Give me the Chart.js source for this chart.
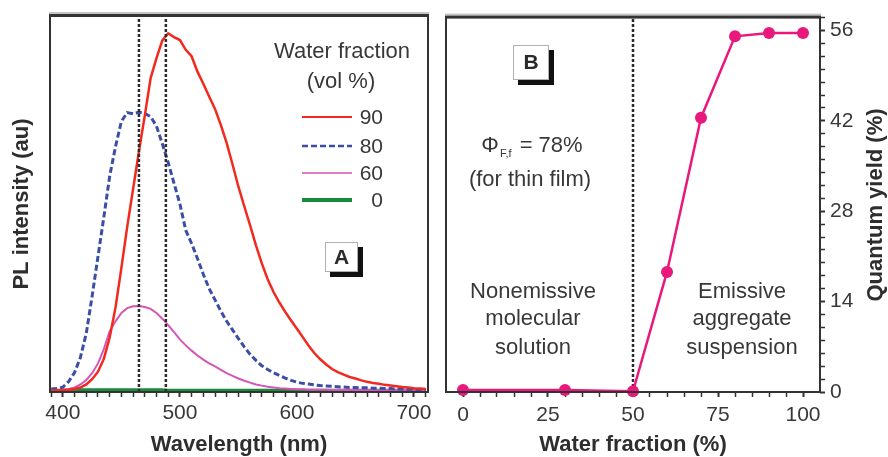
<!DOCTYPE html>
<html>
<head>
<meta charset="utf-8">
<script src="https://cdn.jsdelivr.net/npm/chart.js@4.4.1/dist/chart.umd.min.js"></script>
<style>
  html, body { margin: 0; padding: 0; background: #fff; }
  #wrap { position: relative; width: 888px; height: 457px; overflow: hidden; background: #fff; }
  #spectra { position: absolute; left: 0; top: 0; width: 440px; height: 457px; }
  #yield { position: absolute; left: 440px; top: 0; width: 448px; height: 457px; }
</style>
</head>
<body>
<div id="wrap">
  <canvas id="spectra" width="440" height="457"></canvas>
  <canvas id="yield" width="448" height="457"></canvas>
</div>
<script>
// ---- Panel A: PL spectra at different water fractions ----
const wavelength = [
  390, 395, 400, 405, 410, 415, 420, 425, 430, 435, 440, 445, 450, 455, 460, 465,
  470, 475, 480, 485, 490, 495, 500, 505, 510, 515, 520, 525, 530, 535, 540, 545,
  550, 555, 560, 565, 570, 575, 580, 585, 590, 595, 600, 605, 610, 615, 620, 625,
  630, 635, 640, 645, 650, 655, 660, 665, 670, 675, 680, 685, 690, 695, 700, 705, 710
];
const pl90 = [
  0.4, 0.4, 0.5, 0.6, 0.8, 1.2, 2.0, 3.4, 5.4, 8.8, 14.5, 22.5, 33.0, 44.0, 54.0, 64.0,
  73.5, 83.5, 88.8, 93.5, 95.4, 94.4, 93.6, 91.0, 89.3, 85.2, 82.0, 78.6, 75.3, 71.0, 66.2, 60.5,
  54.6, 49.4, 44.3, 39.0, 34.2, 30.0, 26.6, 23.8, 21.3, 19.0, 16.8, 14.6, 12.3, 10.3, 8.7, 7.3,
  6.1, 5.3, 4.6, 4.0, 3.6, 3.1, 2.7, 2.4, 2.2, 1.9, 1.7, 1.5, 1.3, 1.2, 1.0, 0.9, 0.8
];
const pl80 = [
  0.8, 0.9, 1.3, 2.8, 5.2, 9.2, 15.6, 25.5, 36.0, 46.5, 57.4, 65.3, 72.0, 74.3, 74.0, 74.4,
  74.1, 73.2, 70.7, 66.0, 61.0, 55.5, 50.0, 43.0, 39.5, 35.5, 31.3, 27.5, 24.5, 21.5, 18.8, 16.5,
  14.2, 12.0, 10.0, 8.4, 7.0, 6.0, 5.1, 4.4, 3.7, 3.1, 2.6, 2.3, 2.1, 1.9, 1.7, 1.6,
  1.5, 1.4, 1.3, 1.2, 1.2, 1.1, 1.1, 1.0, 1.0, 0.9, 0.9, 0.8, 0.8, 0.7, 0.7, 0.6, 0.6
];
const pl60 = [
  0.5, 0.5, 0.6, 0.8, 1.2, 2.0, 3.2, 5.0, 7.6, 11.4, 16.2, 18.8, 21.0, 22.3, 22.8, 22.9,
  22.6, 22.1, 21.0, 19.5, 17.8, 15.9, 14.0, 12.4, 11.0, 9.7, 8.6, 7.6, 6.8, 5.9, 5.0, 4.3,
  3.6, 3.0, 2.5, 2.0, 1.7, 1.4, 1.2, 1.0, 0.9, 0.8, 0.7, 0.7, 0.6, 0.6, 0.6, 0.6,
  0.5, 0.5, 0.5, 0.5, 0.5, 0.5, 0.5, 0.5, 0.5, 0.5, 0.5, 0.5, 0.5, 0.5, 0.5, 0.5, 0.5
];
const pl0 = [
  0.4, 0.4, 0.4, 0.4, 0.5, 0.5, 0.5, 0.5, 0.5, 0.5, 0.5, 0.5, 0.5, 0.5, 0.5, 0.5,
  0.5, 0.5, 0.5, 0.5, 0.4, 0.4, 0.4, 0.4, 0.4, 0.4, 0.4, 0.4, 0.4, 0.4, 0.4, 0.4,
  0.4, 0.4, 0.4, 0.4, 0.4, 0.4, 0.4, 0.4, 0.4, 0.4, 0.4, 0.4, 0.4, 0.4, 0.4, 0.4,
  0.4, 0.4, 0.4, 0.4, 0.4, 0.4, 0.4, 0.4, 0.4, 0.4, 0.4, 0.4, 0.4, 0.4, 0.4, 0.4, 0.4
];
const seriesLabels = ['90', '80', '60', '0'];
const peakMarkers = [465, 488];
const wavelengthTicks = [
  390, 400, 410, 420, 430, 440, 450, 460, 470, 480, 490, 500, 510, 520, 530, 540, 550,
  560, 570, 580, 590, 600, 610, 620, 630, 640, 650, 660, 670, 680, 690, 700, 710
];
const wavelengthTickLabels = [400, 500, 600, 700];
const intensityRange = [0, 100];
const wavelengthRange = [389, 712];

// ---- Panel B: quantum yield vs water fraction ----
const waterFraction = [0, 30, 50, 60, 70, 80, 90, 100];
const quantumYield = [0.3, 0.3, 0.1, 18.6, 42.5, 55.1, 55.6, 55.6];
const transitionFraction = 50;
const fractionTicks = [0, 5, 10, 15, 20, 25, 30, 35, 40, 45, 50, 55, 60, 65, 70, 75, 80, 85, 90, 95, 100];
const fractionTickLabels = [0, 25, 50, 75, 100];
const yieldTicks = [0, 2, 4, 6, 8, 10, 12, 14, 16, 18, 20, 22, 24, 26, 28, 30, 32, 34, 36, 38, 40, 42, 44, 46, 48, 50, 52, 54, 56, 58];
const yieldTickLabels = [0, 14, 28, 42, 56];
const fractionRange = [-5, 105];
const yieldRange = [0, 58];

const FONT = '"Liberation Sans", Arial, Helvetica, sans-serif';
const INK = '#383838';
Chart.defaults.font.family = FONT;
Chart.defaults.color = INK;

function pts(xs, ys) { return xs.map((x, i) => ({ x: x, y: ys[i] })); }
function vline(x, lo, hi) { return [{ x: x, y: lo }, { x: x, y: hi }]; }

// Box frame around the plot area with a heavier top edge
const framePlugin = {
  id: 'frame',
  afterDraw(chart) {
    const { ctx, chartArea: a } = chart;
    ctx.save();
    ctx.strokeStyle = '#333';
    ctx.lineWidth = 2;
    ctx.beginPath();
    ctx.moveTo(a.left, a.top);
    ctx.lineTo(a.left, a.bottom);
    ctx.lineTo(a.right, a.bottom);
    ctx.lineTo(a.right, a.top);
    ctx.stroke();
    ctx.fillStyle = '#c4c4c4';
    ctx.fillRect(a.left - 1, a.top - 4, a.right - a.left + 2, 2);
    ctx.fillStyle = '#333';
    ctx.fillRect(a.left - 1, a.top - 2, a.right - a.left + 2, 3);
    ctx.restore();
  }
};

function labelBox(ctx, x, y, w, h, text) {
  ctx.fillStyle = '#111';
  ctx.fillRect(x + 5, y + 5, w, h);
  ctx.fillStyle = '#fff';
  ctx.fillRect(x, y, w, h);
  ctx.strokeStyle = '#b0b0b0';
  ctx.lineWidth = 1;
  ctx.strokeRect(x + 0.5, y + 0.5, w - 1, h - 1);
  ctx.fillStyle = '#2a2a2a';
  ctx.font = 'bold 21px ' + FONT;
  ctx.textAlign = 'center';
  ctx.textBaseline = 'middle';
  ctx.fillText(text, x + w / 2, y + h / 2 + 1);
}

const spectraNotes = {
  id: 'spectraNotes',
  afterDraw(chart) {
    const ctx = chart.ctx;
    ctx.save();
    ctx.fillStyle = INK;
    ctx.font = '22px ' + FONT;
    ctx.textAlign = 'center';
    ctx.textBaseline = 'middle';
    ctx.fillText('Water fraction', 342, 52);
    ctx.fillText('(vol %)', 341, 82);
    const rows = [117, 146, 173, 200];
    const curves = chart.data.datasets.filter(d => d.isSeries);
    curves.forEach((d, i) => {
      ctx.save();
      ctx.strokeStyle = d.borderColor;
      ctx.lineWidth = d.legendWidth;
      ctx.setLineDash(d.borderDash || []);
      ctx.beginPath();
      ctx.moveTo(302, rows[i]);
      ctx.lineTo(352, rows[i]);
      ctx.stroke();
      ctx.restore();
      ctx.fillStyle = INK;
      ctx.font = '21px ' + FONT;
      ctx.textAlign = 'right';
      ctx.fillText(d.label, 383, rows[i] + 1);
    });
    labelBox(ctx, 325, 242, 33, 30, 'A');
    ctx.restore();
  }
};

const yieldNotes = {
  id: 'yieldNotes',
  afterDraw(chart) {
    const ctx = chart.ctx;
    ctx.save();
    labelBox(ctx, 73, 45, 36, 35, 'B');
    ctx.fillStyle = INK;
    ctx.textBaseline = 'alphabetic';
    // Φ with subscript F,f
    const big = '22px ' + FONT, small = '11px ' + FONT;
    ctx.font = big;
    const wPhi = ctx.measureText('\u03A6').width;
    const wEq = ctx.measureText(' = 78%').width;
    ctx.font = small;
    const wSub = ctx.measureText('F,f').width;
    let x = 92 - (wPhi + wSub + 3 + wEq) / 2;
    const base = 152;
    ctx.textAlign = 'left';
    ctx.font = big;
    ctx.fillText('\u03A6', x, base);
    x += wPhi + 1;
    ctx.font = small;
    ctx.fillText('F,f', x, base + 5);
    x += wSub + 2;
    ctx.font = big;
    ctx.fillText(' = 78%', x, base);
    ctx.textAlign = 'center';
    ctx.textBaseline = 'middle';
    ctx.fillText('(for thin film)', 90, 180);
    const ly = [292, 319, 348];
    ['Nonemissive', 'molecular', 'solution'].forEach((t, i) => ctx.fillText(t, 93, ly[i]));
    ['Emissive', 'aggregate', 'suspension'].forEach((t, i) => ctx.fillText(t, 302, ly[i]));
    // right-hand axis title, reading bottom to top
    ctx.save();
    ctx.translate(436, 205);
    ctx.rotate(-Math.PI / 2);
    ctx.font = 'bold 22px ' + FONT;
    ctx.fillStyle = '#2e2e2e';
    ctx.fillText('Quantum yield (%)', 0, 0);
    ctx.restore();
    ctx.restore();
  }
};

const tickGrid = (labels) => ({
  display: true,
  drawOnChartArea: false,
  drawTicks: true,
  tickLength: 5,
  tickColor: '#333',
  tickWidth: (c) => (c.tick && labels.includes(c.tick.value) ? 2 : 1.5)
});

const markerStyle = { borderColor: '#2b2b2b', borderWidth: 2.5, borderDash: [3, 2], pointRadius: 0 };

new Chart(document.getElementById('spectra'), {
  type: 'line',
  data: {
    datasets: [
      Object.assign({ data: vline(peakMarkers[0], intensityRange[0], intensityRange[1]) }, markerStyle),
      Object.assign({ data: vline(peakMarkers[1], intensityRange[0], intensityRange[1]) }, markerStyle),
      { isSeries: true, label: seriesLabels[0], data: pts(wavelength, pl90), borderColor: '#f2291e', borderWidth: 2.5, legendWidth: 2, pointRadius: 0, tension: 0 },
      { isSeries: true, label: seriesLabels[1], data: pts(wavelength, pl80), borderColor: '#3a4ea8', borderWidth: 3, legendWidth: 2.5, borderDash: [6, 3], pointRadius: 0, tension: 0 },
      { isSeries: true, label: seriesLabels[2], data: pts(wavelength, pl60), borderColor: '#d556b4', borderWidth: 2, legendWidth: 1.5, pointRadius: 0, tension: 0 },
      { isSeries: true, label: seriesLabels[3], data: pts(wavelength, pl0), borderColor: '#1a8a3c', borderWidth: 3.5, legendWidth: 4, pointRadius: 0, tension: 0 }
    ]
  },
  options: {
    responsive: false,
    animation: false,
    devicePixelRatio: 1,
    layout: { padding: { top: 16, right: 12, left: 0, bottom: 0 } },
    plugins: { legend: { display: false }, tooltip: { enabled: false } },
    scales: {
      x: {
        type: 'linear',
        min: wavelengthRange[0],
        max: wavelengthRange[1],
        border: { display: false },
        grid: tickGrid(wavelengthTickLabels),
        afterBuildTicks: (s) => { s.ticks = wavelengthTicks.map(v => ({ value: v })); },
        afterFit: (s) => { s.height = 65; },
        ticks: {
          autoSkip: false, maxRotation: 0, minRotation: 0, padding: 4,
          color: INK, font: { size: 21 },
          callback: (v) => (wavelengthTickLabels.includes(v) ? String(v) : '')
        },
        title: {
          display: true, text: 'Wavelength (nm)', color: '#2e2e2e',
          font: { size: 22, weight: 'bold', lineHeight: 1 }, padding: { top: 0, bottom: 1 }
        }
      },
      y: {
        type: 'linear',
        min: intensityRange[0],
        max: intensityRange[1],
        border: { display: false },
        grid: { display: false },
        ticks: { display: false },
        afterFit: (s) => { s.width = 50; },
        title: {
          display: true, text: 'PL intensity (au)', color: '#2e2e2e',
          font: { size: 22, weight: 'bold', lineHeight: 1 }, padding: { top: 11, bottom: 0 }
        }
      }
    }
  },
  plugins: [framePlugin, spectraNotes]
});

new Chart(document.getElementById('yield'), {
  type: 'line',
  data: {
    datasets: [
      { data: pts(waterFraction, quantumYield), borderColor: '#e8187c', backgroundColor: '#e8187c', borderWidth: 2.5,
        pointRadius: 6, pointBackgroundColor: '#e8187c', pointBorderWidth: 0, clip: false, tension: 0 },
      Object.assign({ data: vline(transitionFraction, yieldRange[0], yieldRange[1]) }, markerStyle)
    ]
  },
  options: {
    responsive: false,
    animation: false,
    devicePixelRatio: 1,
    layout: { padding: { top: 16, right: 0, left: 3, bottom: 0 } },
    plugins: { legend: { display: false }, tooltip: { enabled: false } },
    scales: {
      x: {
        type: 'linear',
        min: fractionRange[0],
        max: fractionRange[1],
        border: { display: false },
        grid: tickGrid(fractionTickLabels),
        afterBuildTicks: (s) => { s.ticks = fractionTicks.map(v => ({ value: v })); },
        afterFit: (s) => { s.height = 65; },
        ticks: {
          autoSkip: false, maxRotation: 0, minRotation: 0, padding: 6,
          color: INK, font: { size: 21 },
          callback: (v) => (fractionTickLabels.includes(v) ? String(v) : '')
        },
        title: {
          display: true, text: 'Water fraction (%)', color: '#2e2e2e',
          font: { size: 22, weight: 'bold', lineHeight: 1 }, padding: { top: 0, bottom: 1 }
        }
      },
      y: {
        type: 'linear',
        position: 'right',
        min: yieldRange[0],
        max: yieldRange[1],
        border: { display: false },
        grid: tickGrid(yieldTickLabels),
        afterBuildTicks: (s) => { s.ticks = yieldTicks.map(v => ({ value: v })); },
        afterFit: (s) => { s.width = 68; },
        ticks: {
          autoSkip: false, padding: 5, color: INK, font: { size: 21 },
          callback: (v) => (yieldTickLabels.includes(v) ? String(v) : '')
        }
      }
    }
  },
  plugins: [framePlugin, yieldNotes]
});
</script>
</body>
</html>
